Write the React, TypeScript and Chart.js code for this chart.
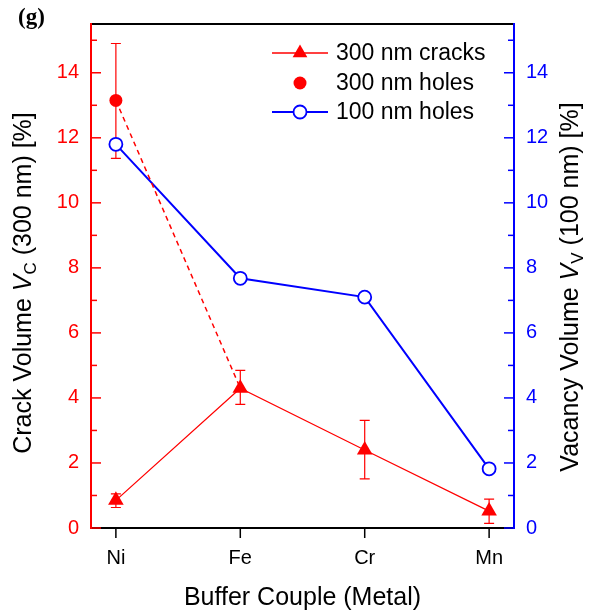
import React, { useEffect, useRef } from "react";
import { Chart, registerables } from "chart.js";

Chart.register(...registerables);

const categories = ["Ni", "Fe", "Cr", "Mn"];
const seriesLabels = ["300 nm cracks", "300 nm holes", "100 nm holes"];
const cracks300 = [0.85, 4.3, 2.4, 0.52];
const cracks300Low = [0.63, 3.8, 1.51, 0.14];
const cracks300High = [1.05, 4.85, 3.31, 0.89];
const holes300 = [13.15, 4.3, null, null];
const holes300Low = [11.37, null, null, null];
const holes300High = [14.9, null, null, null];
const holes100 = [11.8, 7.68, 7.1, 1.82];
const yTickValues = [0, 2, 4, 6, 8, 10, 12, 14];
const yMinorValues = [1, 3, 5, 7, 9, 11, 13, 15];

const RED = "#ff0000";
const BLUE = "#0000ff";
const SANS = "'Liberation Sans', Arial, sans-serif";

function drawTitle(ctx: CanvasRenderingContext2D, cx: number, cy: number, parts: { t: string; italic?: boolean; sub?: boolean }[], size: number) {
  ctx.save();
  ctx.translate(cx, cy);
  ctx.rotate(-Math.PI / 2);
  ctx.fillStyle = "#000";
  ctx.textBaseline = "middle";
  ctx.textAlign = "left";
  const fontFor = (p: any) => `${p.italic ? "italic " : ""}${p.sub ? Math.round(size * 0.68) : size}px ${SANS}`;
  let total = 0;
  for (const p of parts) {
    ctx.font = fontFor(p);
    total += ctx.measureText(p.t).width;
  }
  let x = -total / 2;
  for (const p of parts) {
    ctx.font = fontFor(p);
    ctx.fillText(p.t, x, p.sub ? size * 0.3 : 0);
    x += ctx.measureText(p.t).width;
  }
  ctx.restore();
}

const customPlugin = {
  id: "customDecor",
  beforeDatasetsDraw(chart: any) {
    const ctx = chart.ctx as CanvasRenderingContext2D;
    const xs = chart.scales.x;
    const ys = chart.scales.y;
    ctx.save();
    ctx.strokeStyle = RED;
    ctx.lineWidth = 1.2;
    const drawErr = (lo: (number | null)[], hi: (number | null)[]) => {
      lo.forEach((l, i) => {
        const h = hi[i];
        if (l == null || h == null) return;
        const x = xs.getPixelForValue(i);
        const y1 = ys.getPixelForValue(l);
        const y2 = ys.getPixelForValue(h);
        ctx.beginPath();
        ctx.moveTo(x, y1);
        ctx.lineTo(x, y2);
        ctx.moveTo(x - 5, y1);
        ctx.lineTo(x + 5, y1);
        ctx.moveTo(x - 5, y2);
        ctx.lineTo(x + 5, y2);
        ctx.stroke();
      });
    };
    drawErr(cracks300Low, cracks300High);
    drawErr(holes300Low, holes300High);
    ctx.restore();
  },
  afterDraw(chart: any) {
    const ctx = chart.ctx as CanvasRenderingContext2D;
    const { left, right, top, bottom } = chart.chartArea;
    const xs = chart.scales.x;
    const ys = chart.scales.y;
    const ys2 = chart.scales.y2;
    ctx.save();
    ctx.strokeStyle = "#000";
    ctx.lineWidth = 2;
    ctx.beginPath();
    ctx.moveTo(left, bottom);
    ctx.lineTo(right, bottom);
    ctx.moveTo(left, top);
    ctx.lineTo(right, top);
    ctx.stroke();
    ctx.lineWidth = 1.5;
    categories.forEach((_, i) => {
      const x = xs.getPixelForValue(i);
      ctx.beginPath();
      ctx.moveTo(x, bottom);
      ctx.lineTo(x, bottom + 10);
      ctx.stroke();
    });
    ctx.strokeStyle = RED;
    ctx.lineWidth = 2;
    ctx.beginPath();
    ctx.moveTo(left, bottom + 1);
    ctx.lineTo(left, top - 1);
    ctx.stroke();
    ctx.lineWidth = 1.5;
    [...yTickValues.map((v) => [v, 10]), ...yMinorValues.map((v) => [v, 6])].forEach(([v, len]) => {
      const y = ys.getPixelForValue(v);
      ctx.beginPath();
      ctx.moveTo(left, y);
      ctx.lineTo(left + len, y);
      ctx.stroke();
    });
    ctx.strokeStyle = BLUE;
    ctx.lineWidth = 2;
    ctx.beginPath();
    ctx.moveTo(right, bottom + 1);
    ctx.lineTo(right, top - 1);
    ctx.stroke();
    ctx.lineWidth = 1.5;
    [...yTickValues.map((v) => [v, 10]), ...yMinorValues.map((v) => [v, 6])].forEach(([v, len]) => {
      const y = ys2.getPixelForValue(v);
      ctx.beginPath();
      ctx.moveTo(right, y);
      ctx.lineTo(right - len, y);
      ctx.stroke();
    });

    ctx.fillStyle = "#000";
    ctx.font = `25px ${SANS}`;
    ctx.textAlign = "center";
    ctx.textBaseline = "alphabetic";
    ctx.fillText("Buffer Couple (Metal)", (left + right) / 2, 605);
    drawTitle(ctx, 24, 283, [
      { t: "Crack Volume " },
      { t: "V", italic: true },
      { t: "C", sub: true },
      { t: " (300 nm) [%]" },
    ], 25);
    drawTitle(ctx, 571, 287, [
      { t: "Vacancy Volume " },
      { t: "V", italic: true },
      { t: "V", sub: true },
      { t: " (100 nm) [%]" },
    ], 25);

    ctx.font = `bold 23px 'Liberation Serif', 'Times New Roman', serif`;
    ctx.textAlign = "left";
    ctx.fillText("(g)", 18, 24);

    const rows = [53, 83, 112];
    const lx1 = 272, lx2 = 328, mx = 300, tx = 336;
    const datasets = chart.data.datasets;
    ctx.font = `23px ${SANS}`;
    ctx.textBaseline = "middle";
    rows.forEach((ry, k) => {
      const ds = datasets[k];
      if (k !== 1) {
        ctx.strokeStyle = ds.borderColor;
        ctx.lineWidth = k === 2 ? 2 : 1.3;
        ctx.setLineDash([]);
        ctx.beginPath();
        ctx.moveTo(lx1, ry);
        ctx.lineTo(lx2, ry);
        ctx.stroke();
      }
      ctx.fillStyle = ds.pointBackgroundColor;
      ctx.strokeStyle = ds.borderColor;
      ctx.lineWidth = k === 2 ? 1.8 : 0;
      ctx.beginPath();
      if (k === 0) {
        const r = 8.5;
        ctx.moveTo(mx, ry - r);
        ctx.lineTo(mx + r * 0.866, ry + r / 2);
        ctx.lineTo(mx - r * 0.866, ry + r / 2);
        ctx.closePath();
        ctx.fill();
      } else {
        ctx.arc(mx, ry, 6.5, 0, Math.PI * 2);
        ctx.fill();
        if (k === 2) ctx.stroke();
      }
      ctx.fillStyle = "#000";
      ctx.fillText(ds.label, tx, ry + 1);
    });
    ctx.restore();
  },
};

export default function App() {
  const ref = useRef<HTMLCanvasElement>(null);
  useEffect(() => {
    if (!ref.current) return;
    const toXY = (arr: (number | null)[]) => arr.map((v, i) => ({ x: i, y: v }));
    const chart = new Chart(ref.current, {
      type: "line",
      data: {
        datasets: [
          {
            label: seriesLabels[0],
            data: toXY(cracks300) as any,
            yAxisID: "y",
            borderColor: RED,
            borderWidth: 1.3,
            pointStyle: "triangle",
            pointRadius: 9,
            pointBackgroundColor: RED,
            pointBorderColor: RED,
            pointBorderWidth: 0,
            order: 0,
          },
          {
            label: seriesLabels[1],
            data: toXY(holes300) as any,
            yAxisID: "y",
            borderColor: RED,
            borderWidth: 1.5,
            borderDash: [5, 4],
            pointStyle: "circle",
            pointRadius: [6.5, 0, 0, 0],
            pointBackgroundColor: RED,
            pointBorderColor: RED,
            pointBorderWidth: 0,
            spanGaps: false,
            order: 1,
          },
          {
            label: seriesLabels[2],
            data: toXY(holes100) as any,
            yAxisID: "y2",
            borderColor: BLUE,
            borderWidth: 2,
            pointStyle: "circle",
            pointRadius: 6.5,
            pointBackgroundColor: "#ffffff",
            pointBorderColor: BLUE,
            pointBorderWidth: 1.8,
            order: 2,
          },
        ],
      },
      options: {
        responsive: false,
        animation: false,
        devicePixelRatio: 1,
        layout: { padding: { top: 20, left: 0, right: 0, bottom: 0 } },
        plugins: { legend: { display: false }, tooltip: { enabled: false } },
        scales: {
          x: {
            type: "linear",
            min: -0.2,
            max: 3.2,
            afterBuildTicks: (s: any) => {
              s.ticks = categories.map((_, i) => ({ value: i }));
            },
            ticks: {
              callback: (v: any) => categories[v as number] ?? "",
              color: "#000",
              font: { family: SANS, size: 20 },
              padding: 18,
              maxRotation: 0,
              autoSkip: false,
            },
            grid: { display: false, drawTicks: false },
            border: { display: false },
            afterFit: (s: any) => {
              s.height = 88;
            },
          },
          y: {
            position: "left",
            min: 0,
            max: 15.5,
            afterBuildTicks: (s: any) => {
              s.ticks = yTickValues.map((v) => ({ value: v }));
            },
            ticks: { color: RED, font: { family: SANS, size: 20 }, padding: 12 },
            grid: { display: false, drawTicks: false },
            border: { display: false },
            afterFit: (s: any) => {
              s.width = 91;
            },
          },
          y2: {
            position: "right",
            min: 0,
            max: 15.5,
            afterBuildTicks: (s: any) => {
              s.ticks = yTickValues.map((v) => ({ value: v }));
            },
            ticks: { color: BLUE, font: { family: SANS, size: 20 }, padding: 12 },
            grid: { display: false, drawTicks: false },
            border: { display: false },
            afterFit: (s: any) => {
              s.width = 84;
            },
          },
        },
      },
      plugins: [customPlugin],
    });
    return () => chart.destroy();
  }, []);
  return (
    <div style={{ position: "fixed", left: 0, top: 0, width: 598, height: 616, background: "#fff" }}>
      <canvas ref={ref} width={598} height={616} style={{ display: "block" }} />
    </div>
  );
}
